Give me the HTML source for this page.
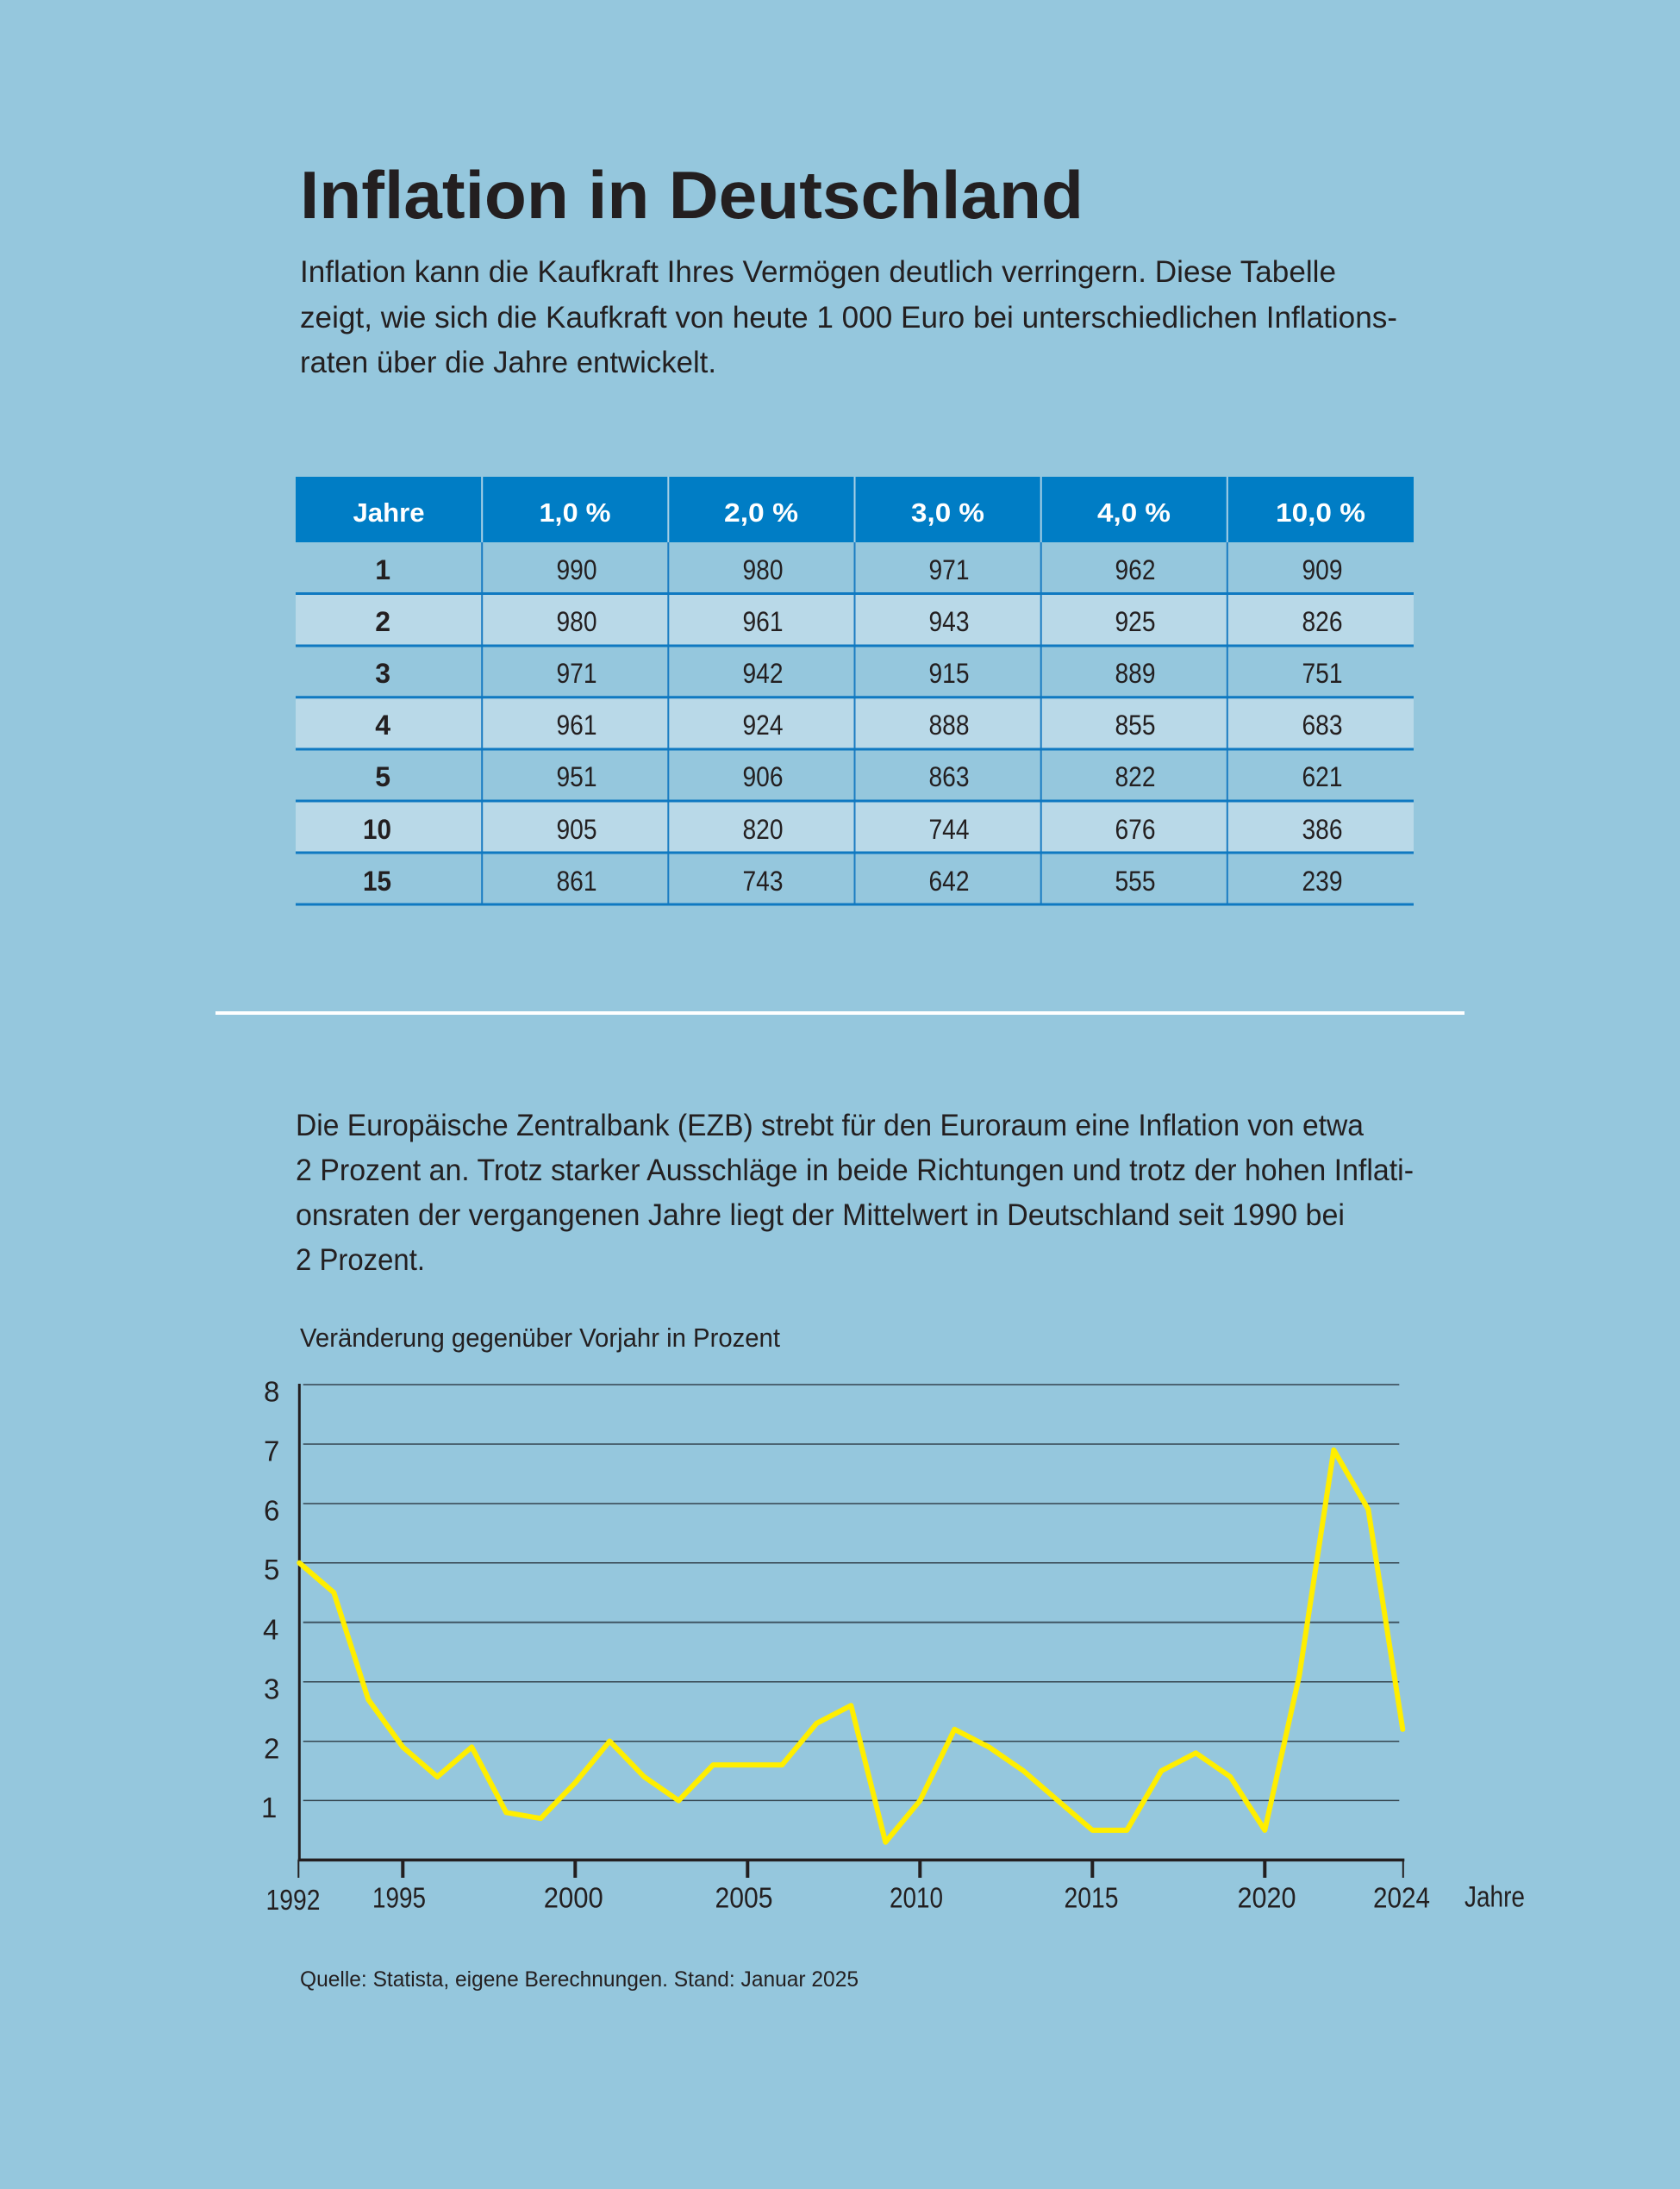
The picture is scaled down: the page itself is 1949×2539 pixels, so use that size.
<!DOCTYPE html>
<html>
<head>
<meta charset="utf-8">
<style>
html,body{margin:0;padding:0;background:#95c7dd;}
svg{display:block;}
text{font-family:"Liberation Sans",Arial,sans-serif;fill:#231f20;}
.b{font-weight:bold;}
.w{fill:#ffffff;}
</style>
</head>
<body>
<svg width="1949" height="2539" viewBox="0 0 1949 2539" xmlns="http://www.w3.org/2000/svg">
<rect x="0" y="0" width="1949" height="2539" fill="#95c7dd"/>

<!-- Title -->
<text class="b" x="348" y="253" font-size="78" textLength="909" lengthAdjust="spacingAndGlyphs">Inflation in Deutschland</text>

<!-- Intro paragraph -->
<text x="348" y="327" font-size="35" textLength="1202" lengthAdjust="spacingAndGlyphs">Inflation kann die Kaufkraft Ihres Vermögen deutlich verringern. Diese Tabelle</text>
<text x="348" y="380" font-size="35" textLength="1273" lengthAdjust="spacingAndGlyphs">zeigt, wie sich die Kaufkraft von heute 1 000 Euro bei unterschiedlichen Inflations-</text>
<text x="348" y="432" font-size="35" textLength="483" lengthAdjust="spacingAndGlyphs">raten über die Jahre entwickelt.</text>

<!-- Table -->
<rect x="343" y="553" width="1297" height="76" fill="#007dc5"/>
<rect x="343" y="629" width="1297" height="60" fill="#95c7dd"/>
<rect x="343" y="689" width="1297" height="60" fill="#b9d9e8"/>
<rect x="343" y="749" width="1297" height="60" fill="#95c7dd"/>
<rect x="343" y="809" width="1297" height="60" fill="#b9d9e8"/>
<rect x="343" y="869" width="1297" height="60" fill="#95c7dd"/>
<rect x="343" y="929" width="1297" height="60" fill="#b9d9e8"/>
<rect x="343" y="989" width="1297" height="60" fill="#95c7dd"/>

<!-- header dividers -->
<g stroke="#a7d0e6" stroke-width="2">
<line x1="559.2" y1="553" x2="559.2" y2="629"/>
<line x1="775.3" y1="553" x2="775.3" y2="629"/>
<line x1="991.5" y1="553" x2="991.5" y2="629"/>
<line x1="1207.7" y1="553" x2="1207.7" y2="629"/>
<line x1="1423.8" y1="553" x2="1423.8" y2="629"/>
</g>
<!-- body dividers -->
<g stroke="#1a7cc2" stroke-width="2">
<line x1="559.2" y1="629" x2="559.2" y2="1049"/>
<line x1="775.3" y1="629" x2="775.3" y2="1049"/>
<line x1="991.5" y1="629" x2="991.5" y2="1049"/>
<line x1="1207.7" y1="629" x2="1207.7" y2="1049"/>
<line x1="1423.8" y1="629" x2="1423.8" y2="1049"/>
</g>
<g stroke="#0f79c1" stroke-width="3">
<line x1="343" y1="688.5" x2="1640" y2="688.5"/>
<line x1="343" y1="749" x2="1640" y2="749"/>
<line x1="343" y1="808.8" x2="1640" y2="808.8"/>
<line x1="343" y1="869" x2="1640" y2="869"/>
<line x1="343" y1="929" x2="1640" y2="929"/>
<line x1="343" y1="989" x2="1640" y2="989"/>
<line x1="343" y1="1049" x2="1640" y2="1049"/>
</g>

<!-- header text -->
<g font-size="31" text-anchor="middle">
<text class="b w" x="451" y="605" textLength="83" lengthAdjust="spacingAndGlyphs">Jahre</text>
<text class="b w" x="667" y="605" textLength="83" lengthAdjust="spacingAndGlyphs">1,0 %</text>
<text class="b w" x="883" y="605" textLength="86" lengthAdjust="spacingAndGlyphs">2,0 %</text>
<text class="b w" x="1099.5" y="605" textLength="85" lengthAdjust="spacingAndGlyphs">3,0 %</text>
<text class="b w" x="1315.5" y="605" textLength="85" lengthAdjust="spacingAndGlyphs">4,0 %</text>
<text class="b w" x="1532" y="605" textLength="104" lengthAdjust="spacingAndGlyphs">10,0 %</text>
</g>

<!-- row labels -->
<g font-size="32" text-anchor="end">
<text class="b" x="453" y="672">1</text>
<text class="b" x="453" y="732">2</text>
<text class="b" x="453" y="792">3</text>
<text class="b" x="453" y="852">4</text>
<text class="b" x="453" y="912">5</text>
<text class="b" x="454" y="973" textLength="33" lengthAdjust="spacingAndGlyphs">10</text>
<text class="b" x="454" y="1033" textLength="33" lengthAdjust="spacingAndGlyphs">15</text>
</g>

<!-- values -->
<g font-size="32" text-anchor="middle">
<text x="669" y="672" textLength="47" lengthAdjust="spacingAndGlyphs">990</text>
<text x="885" y="672" textLength="47" lengthAdjust="spacingAndGlyphs">980</text>
<text x="1101" y="672" textLength="47" lengthAdjust="spacingAndGlyphs">971</text>
<text x="1317" y="672" textLength="47" lengthAdjust="spacingAndGlyphs">962</text>
<text x="1534" y="672" textLength="47" lengthAdjust="spacingAndGlyphs">909</text>

<text x="669" y="732" textLength="47" lengthAdjust="spacingAndGlyphs">980</text>
<text x="885" y="732" textLength="47" lengthAdjust="spacingAndGlyphs">961</text>
<text x="1101" y="732" textLength="47" lengthAdjust="spacingAndGlyphs">943</text>
<text x="1317" y="732" textLength="47" lengthAdjust="spacingAndGlyphs">925</text>
<text x="1534" y="732" textLength="47" lengthAdjust="spacingAndGlyphs">826</text>

<text x="669" y="792" textLength="47" lengthAdjust="spacingAndGlyphs">971</text>
<text x="885" y="792" textLength="47" lengthAdjust="spacingAndGlyphs">942</text>
<text x="1101" y="792" textLength="47" lengthAdjust="spacingAndGlyphs">915</text>
<text x="1317" y="792" textLength="47" lengthAdjust="spacingAndGlyphs">889</text>
<text x="1534" y="792" textLength="47" lengthAdjust="spacingAndGlyphs">751</text>

<text x="669" y="852" textLength="47" lengthAdjust="spacingAndGlyphs">961</text>
<text x="885" y="852" textLength="47" lengthAdjust="spacingAndGlyphs">924</text>
<text x="1101" y="852" textLength="47" lengthAdjust="spacingAndGlyphs">888</text>
<text x="1317" y="852" textLength="47" lengthAdjust="spacingAndGlyphs">855</text>
<text x="1534" y="852" textLength="47" lengthAdjust="spacingAndGlyphs">683</text>

<text x="669" y="912" textLength="47" lengthAdjust="spacingAndGlyphs">951</text>
<text x="885" y="912" textLength="47" lengthAdjust="spacingAndGlyphs">906</text>
<text x="1101" y="912" textLength="47" lengthAdjust="spacingAndGlyphs">863</text>
<text x="1317" y="912" textLength="47" lengthAdjust="spacingAndGlyphs">822</text>
<text x="1534" y="912" textLength="47" lengthAdjust="spacingAndGlyphs">621</text>

<text x="669" y="973" textLength="47" lengthAdjust="spacingAndGlyphs">905</text>
<text x="885" y="973" textLength="47" lengthAdjust="spacingAndGlyphs">820</text>
<text x="1101" y="973" textLength="47" lengthAdjust="spacingAndGlyphs">744</text>
<text x="1317" y="973" textLength="47" lengthAdjust="spacingAndGlyphs">676</text>
<text x="1534" y="973" textLength="47" lengthAdjust="spacingAndGlyphs">386</text>

<text x="669" y="1033" textLength="47" lengthAdjust="spacingAndGlyphs">861</text>
<text x="885" y="1033" textLength="47" lengthAdjust="spacingAndGlyphs">743</text>
<text x="1101" y="1033" textLength="47" lengthAdjust="spacingAndGlyphs">642</text>
<text x="1317" y="1033" textLength="47" lengthAdjust="spacingAndGlyphs">555</text>
<text x="1534" y="1033" textLength="47" lengthAdjust="spacingAndGlyphs">239</text>
</g>

<!-- divider -->
<rect x="250" y="1173" width="1449" height="4" fill="#ffffff"/>

<!-- Second paragraph -->
<text x="343" y="1317" font-size="35" textLength="1239" lengthAdjust="spacingAndGlyphs">Die Europäische Zentralbank (EZB) strebt für den Euroraum eine Inflation von etwa</text>
<text x="343" y="1369" font-size="35" textLength="1297" lengthAdjust="spacingAndGlyphs">2 Prozent an. Trotz starker Ausschläge in beide Richtungen und trotz der hohen Inflati-</text>
<text x="343" y="1421" font-size="35" textLength="1217" lengthAdjust="spacingAndGlyphs">onsraten der vergangenen Jahre liegt der Mittelwert in Deutschland seit 1990 bei</text>
<text x="343" y="1473" font-size="35" textLength="150" lengthAdjust="spacingAndGlyphs">2 Prozent.</text>

<!-- Chart title -->
<text x="348" y="1562" font-size="31" textLength="557" lengthAdjust="spacingAndGlyphs">Veränderung gegenüber Vorjahr in Prozent</text>

<!-- gridlines -->
<g stroke="#34444f" stroke-width="1.5">
<line x1="351.7" y1="1606" x2="1623.3" y2="1606"/>
<line x1="351.7" y1="1675" x2="1623.3" y2="1675"/>
<line x1="351.7" y1="1744" x2="1623.3" y2="1744"/>
<line x1="351.7" y1="1812.7" x2="1623.3" y2="1812.7"/>
<line x1="351.7" y1="1881.8" x2="1623.3" y2="1881.8" stroke="#3f5563" stroke-width="2"/>
<line x1="351.7" y1="1950.8" x2="1623.3" y2="1950.8"/>
<line x1="351.7" y1="2019.8" x2="1623.3" y2="2019.8"/>
<line x1="351.7" y1="2088.4" x2="1623.3" y2="2088.4"/>
</g>

<!-- axes -->
<line x1="347.3" y1="1605" x2="347.3" y2="2159" stroke="#231f20" stroke-width="3"/>
<line x1="345.8" y1="2157.4" x2="1629.3" y2="2157.4" stroke="#231f20" stroke-width="3.5"/>
<g stroke="#231f20">
<line x1="346.3" y1="2157" x2="346.3" y2="2178" stroke-width="2"/>
<line x1="467.3" y1="2157" x2="467.3" y2="2178" stroke-width="4"/>
<line x1="667.3" y1="2157" x2="667.3" y2="2178" stroke-width="4"/>
<line x1="867.3" y1="2157" x2="867.3" y2="2178" stroke-width="4"/>
<line x1="1067.3" y1="2157" x2="1067.3" y2="2178" stroke-width="4"/>
<line x1="1267.3" y1="2157" x2="1267.3" y2="2178" stroke-width="4"/>
<line x1="1467.3" y1="2157" x2="1467.3" y2="2178" stroke-width="4"/>
<line x1="1627.8" y1="2157" x2="1627.8" y2="2178" stroke-width="2"/>
</g>

<!-- y labels -->
<g font-size="33">
<text x="306" y="1625.5">8</text>
<text x="306" y="1694.5">7</text>
<text x="306" y="1763.5">6</text>
<text x="306" y="1832.2">5</text>
<text x="305" y="1901.3">4</text>
<text x="306" y="1970.3">3</text>
<text x="306" y="2039.3">2</text>
<text x="303" y="2108">1</text>
</g>

<!-- x labels -->
<g font-size="33" text-anchor="middle">
<text x="340" y="2215" textLength="63" lengthAdjust="spacingAndGlyphs">1992</text>
<text x="463" y="2212.6" textLength="62" lengthAdjust="spacingAndGlyphs">1995</text>
<text x="665.3" y="2212.6" textLength="69" lengthAdjust="spacingAndGlyphs">2000</text>
<text x="863" y="2212.6" textLength="67" lengthAdjust="spacingAndGlyphs">2005</text>
<text x="1063" y="2212.6" textLength="62" lengthAdjust="spacingAndGlyphs">2010</text>
<text x="1266" y="2212.6" textLength="63" lengthAdjust="spacingAndGlyphs">2015</text>
<text x="1469.5" y="2212.6" textLength="68" lengthAdjust="spacingAndGlyphs">2020</text>
<text x="1626" y="2212.6" textLength="66" lengthAdjust="spacingAndGlyphs">2024</text>
</g>
<text x="1699" y="2211.5" font-size="34" textLength="70" lengthAdjust="spacingAndGlyphs">Jahre</text>

<!-- data line -->
<polyline fill="none" stroke="#ffee00" stroke-width="6" stroke-linejoin="round" stroke-linecap="round"
points="347.3,1812.8 387.3,1847.2 427.3,1971.3 467.3,2026.4 507.3,2060.9 547.3,2026.4 587.3,2102.3 627.3,2109.2 667.3,2067.8 707.3,2019.5 747.3,2060.9 787.3,2088.5 827.3,2047.1 867.3,2047.1 907.3,2047.1 947.3,1998.9 987.3,1978.2 1027.3,2136.7 1067.3,2088.5 1107.3,2005.8 1147.3,2026.4 1187.3,2054.0 1227.3,2088.5 1267.3,2122.9 1307.3,2122.9 1347.3,2054.0 1387.3,2033.3 1427.3,2060.9 1467.3,2122.9 1507.3,1943.7 1547.3,1681.8 1587.3,1750.7 1627.3,2005.8"/>

<!-- source -->
<text x="348" y="2304" font-size="25" textLength="648" lengthAdjust="spacingAndGlyphs">Quelle: Statista, eigene Berechnungen. Stand: Januar 2025</text>
</svg>
</body>
</html>
